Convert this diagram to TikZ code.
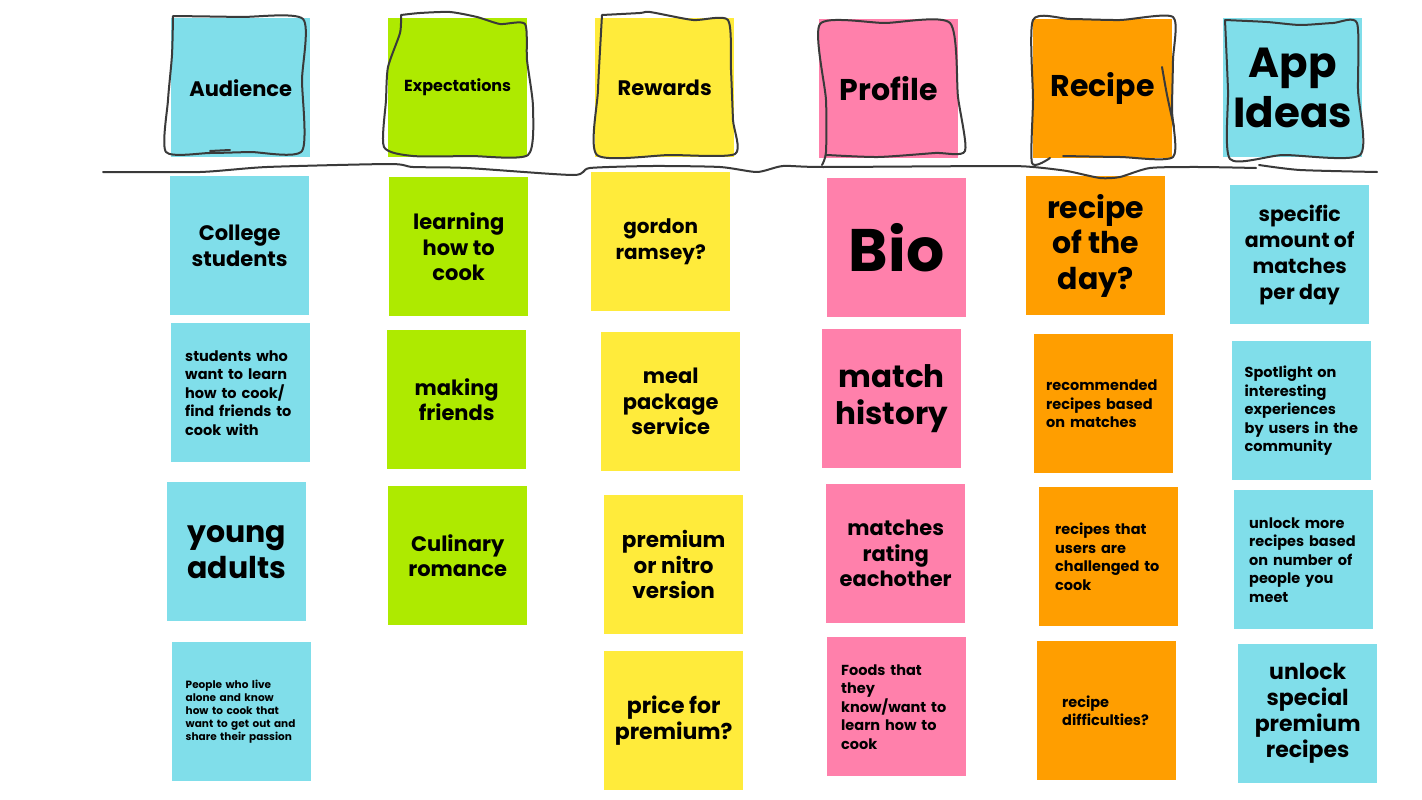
\documentclass[tikz,border=0pt]{standalone}
\usepackage{fontspec}
\setmainfont{Poppins}
\definecolor{skyc}{RGB}{128,222,234}
\definecolor{limec}{RGB}{174,234,0}
\definecolor{lemonc}{RGB}{255,235,59}
\definecolor{rosec}{RGB}{255,128,171}
\definecolor{amberc}{RGB}{255,158,0}
\definecolor{inkc}{RGB}{58,58,58}
\newcommand\txtsize[2]{\fontsize{#1}{#2}\selectfont}
\tikzset{
  sticky/.style={anchor=north west, minimum width=139pt, minimum height=139pt,
    inner sep=0pt, align=center},
  fs/.style 2 args={font=\bfseries\txtsize{#1}{#2}},
  lefttext/.style={align=left, text width=#1},
  sketch/.style={draw=inkc, line width=2pt, line cap=round, line join=round},
}
\begin{document}
\begin{tikzpicture}[x=1pt,y=-1pt]
\useasboundingbox (0,0) rectangle (1422,800);
\fill[white] (0,0) rectangle (1422,800);

% ---- column headers ----
\node[sticky, fill=skyc,   fs={21}{25}] (hAud) at (171,18)  {Audience};
\node[sticky, fill=limec,  fs={16}{20}] (hExp) at (388,18)  {Expectations};
\node[sticky, fill=lemonc, fs={21}{25}] (hRew) at (595,18)  {Rewards};
\node[sticky, fill=rosec,  fs={30}{36}] (hPro) at (819,19)  {Profile};
\node[sticky, fill=amberc, fs={30}{36}] (hRec) at (1033,19) {Recipe};
\node[sticky, fill=skyc,   fs={42}{50}] (hApp) at (1223,18) {App\\Ideas};

% ---- Audience ----
\node[sticky, fill=skyc, fs={21}{25.5}] (a1) at (170,176) {College\\students};
\node[sticky, fill=skyc, fs={14.5}{18.5}, lefttext=111pt] (a2) at (171,323)
  {students who\\want to learn\\how to cook/\\find friends to\\cook with};
\node[sticky, fill=skyc, fs={30}{36}] (a3) at (167,482) {young\\adults};
\node[sticky, fill=skyc, fs={10.5}{13.2}, lefttext=112pt] (a4) at (172,642)
  {People who live\\alone and know\\how to cook that\\want to get out and\\share their passion};

% ---- Expectations ----
\node[sticky, fill=limec, fs={21}{25.5}] (e1) at (389,177) {learning\\how to\\cook};
\node[sticky, fill=limec, fs={21}{25.5}] (e2) at (387,330) {making\\friends};
\node[sticky, fill=limec, fs={21}{25.5}] (e3) at (388,486) {Culinary\\romance};

% ---- Rewards ----
\node[sticky, fill=lemonc, fs={20}{25.5}] (r1) at (591,172) {gordon\\ramsey?};
\node[sticky, fill=lemonc, fs={21}{25.5}] (r2) at (601,332) {meal\\package\\service};
\node[sticky, fill=lemonc, fs={21.5}{25.5}] (r3) at (604,495) {premium\\or nitro\\version};
\node[sticky, fill=lemonc, fs={22}{26.5}] (r4) at (604,651) {price for\\premium?};

% ---- Profile ----
\node[sticky, fill=rosec, fs={60}{66}] (p1) at (827,178) {Bio};
\node[sticky, fill=rosec, fs={31}{37}] (p2) at (822,329) {match\\history};
\node[sticky, fill=rosec, fs={21}{25.5}] (p3) at (826,484) {matches\\rating\\eachother};
\node[sticky, fill=rosec, fs={14.5}{18.5}, lefttext=111pt] (p4) at (827,637)
  {Foods that\\they\\know/want to\\learn how to\\cook};

% ---- Recipe ----
\node[sticky, fill=amberc, fs={30}{35.5}] (c1) at (1026,176) {recipe\\of the\\day?};
\node[sticky, fill=amberc, fs={14.5}{18.5}, lefttext=115pt] (c2) at (1034,334)
  {recommended\\recipes based\\on matches};
\node[sticky, fill=amberc, fs={14.5}{18.5}, lefttext=107pt] (c3) at (1039,487)
  {recipes that\\users are\\challenged to\\cook};
\node[sticky, fill=amberc, fs={14.5}{18.5}, lefttext=89pt] (c4) at (1037,641)
  {recipe\\difficulties?};

% ---- App Ideas ----
\node[sticky, fill=skyc, fs={20.5}{26}] (i1) at (1230,185) {specific\\amount of\\matches\\per day};
\node[sticky, fill=skyc, fs={14.5}{18.5}, lefttext=114pt] (i2) at (1232,341)
  {Spotlight on\\interesting\\experiences\\by users in the\\community};
\node[sticky, fill=skyc, fs={14.5}{18.5}, lefttext=109pt] (i3) at (1234,490)
  {unlock more\\recipes based\\on number of\\people you\\meet};
\node[sticky, fill=skyc, fs={22}{26}] (i4) at (1238,644) {unlock\\special\\premium\\recipes};

% ---- hand-drawn frames around the headers ----
\draw[sketch] plot[smooth, tension=0.4] coordinates
  {(173,16) (240,17) (303,19) (302,80) (302,151) (250,152) (210,153) (166,152) (168,100) (172,55) (173,16)};
\draw[sketch] (210,151) -- (230,150);
\draw[sketch] plot[smooth, tension=0.4] coordinates
  {(401,15) (420,13) (450,12) (477,17) (500,24) (525,24) (527,60) (533,107) (528,155) (470,156) (413,156) (384,147) (386,100) (388,67) (400,33) (401,15)};
\draw[sketch] plot[smooth, tension=0.4] coordinates
  {(602,15) (640,13) (650,12) (693,20) (728,20) (731,70) (733,120) (735,154) (670,155) (597,155) (598,90) (602,15)};
\draw[sketch] plot[smooth, tension=0.4] coordinates
  {(822,165) (826,152) (826,100) (820,24) (885,23) (950,23) (958,97) (965,151) (935,153) (878,157) (827,155)};
\draw[sketch] plot[smooth, tension=0.4] coordinates
  {(1063,156) (1120,157) (1173,157) (1172,110) (1173,60) (1173,17) (1120,20) (1070,19) (1033,20) (1033,100) (1032,163) (1050,158)};
\draw[sketch] plot[smooth, tension=0.4] coordinates {(1162,67) (1167,95) (1174,127)};
\draw[sketch] plot[smooth, tension=0.4] coordinates
  {(1225,20) (1267,22) (1300,25) (1333,23) (1357,23) (1358,90) (1360,155) (1283,155) (1230,159) (1228,90) (1225,20)};

% ---- divider under the headers ----
\draw[sketch] plot[smooth, tension=0.4] coordinates
  {(103,172) (200,172) (267,167) (390,164) (413,167) (467,168) (573,175) (590,168) (653,166) (720,167) (757,172) (783,166) (823,167) (1000,166) (1033,167) (1067,171) (1100,178) (1120,177) (1150,168) (1200,167) (1256,168)};
\draw[sketch] plot[smooth, tension=0.4] coordinates
  {(1259,165) (1300,170) (1377,172)};
\end{tikzpicture}
\end{document}
